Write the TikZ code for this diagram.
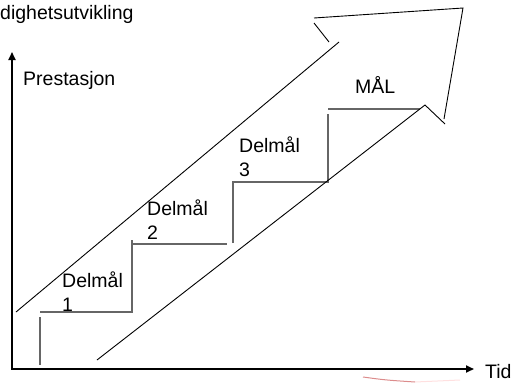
\documentclass[tikz,border=0pt]{standalone}
\usepackage{fontspec}
\setmainfont{Liberation Sans}
\usetikzlibrary{arrows.meta}

\begin{document}
\begin{tikzpicture}[x=1pt, y=-1pt,
    axis/.style={line width=1.8pt, line join=miter, {Triangle[length=8pt, width=7pt]}-{Triangle[length=8pt, width=7pt]}},
    stair/.style={draw=black!60, line width=1.2pt},
    outline/.style={draw=black, line width=0.9pt},
    lbl/.style={inner sep=0pt, anchor=base west, align=left, font=\fontsize{19.5}{24}\selectfont}]
  \useasboundingbox (0,0) rectangle (514,383);

  % axes
  \coordinate (origin) at (12,369);
  \coordinate (ytop) at (12,52);
  \coordinate (xend) at (474,369);
  \draw[axis] (ytop) -- (origin) -- (xend);

  % staircase
  \draw[stair] (40,365) -- (40,317);
  \draw[stair] (40,312) -- (132,312) -- (132,240);
  \draw[stair] (132,244) -- (227,244);
  \draw[stair] (233,243) -- (233,182) -- (328,182) -- (328,114);
  \draw[stair] (328,109) -- (420,109);

  % big arrow
  \draw[outline] (97,360) -- (425,105) -- (445,124);
  \draw[outline] (444,119) -- (463,8) -- (314,18);
  \draw[outline] (314,23) -- (329,42);
  \draw[outline] (339,42) -- (16,312);

  % texts (base = last line)
  \node[lbl] (dev) at (0,19) {dighetsutvikling};
  \node[lbl] (perf) at (23,85) {Prestasjon};
  \node[lbl] (time) at (485,378) {Tid};
  \node[lbl] (sub1) at (62,311) {Delmål\\1};
  \node[lbl] (sub2) at (147,239) {Delmål\\2};
  \node[lbl] (sub3) at (239,176) {Delmål\\3};
  \node[lbl] (goal) at (355,93) {MÅL};

  % red mark
  \draw[red!70!black, opacity=0.45, line width=1pt] (363,377) .. controls (385,380) .. (415,382);
  \draw[red!40, opacity=0.3, line width=1pt] (415,382) -- (460,380);
\end{tikzpicture}
\end{document}
